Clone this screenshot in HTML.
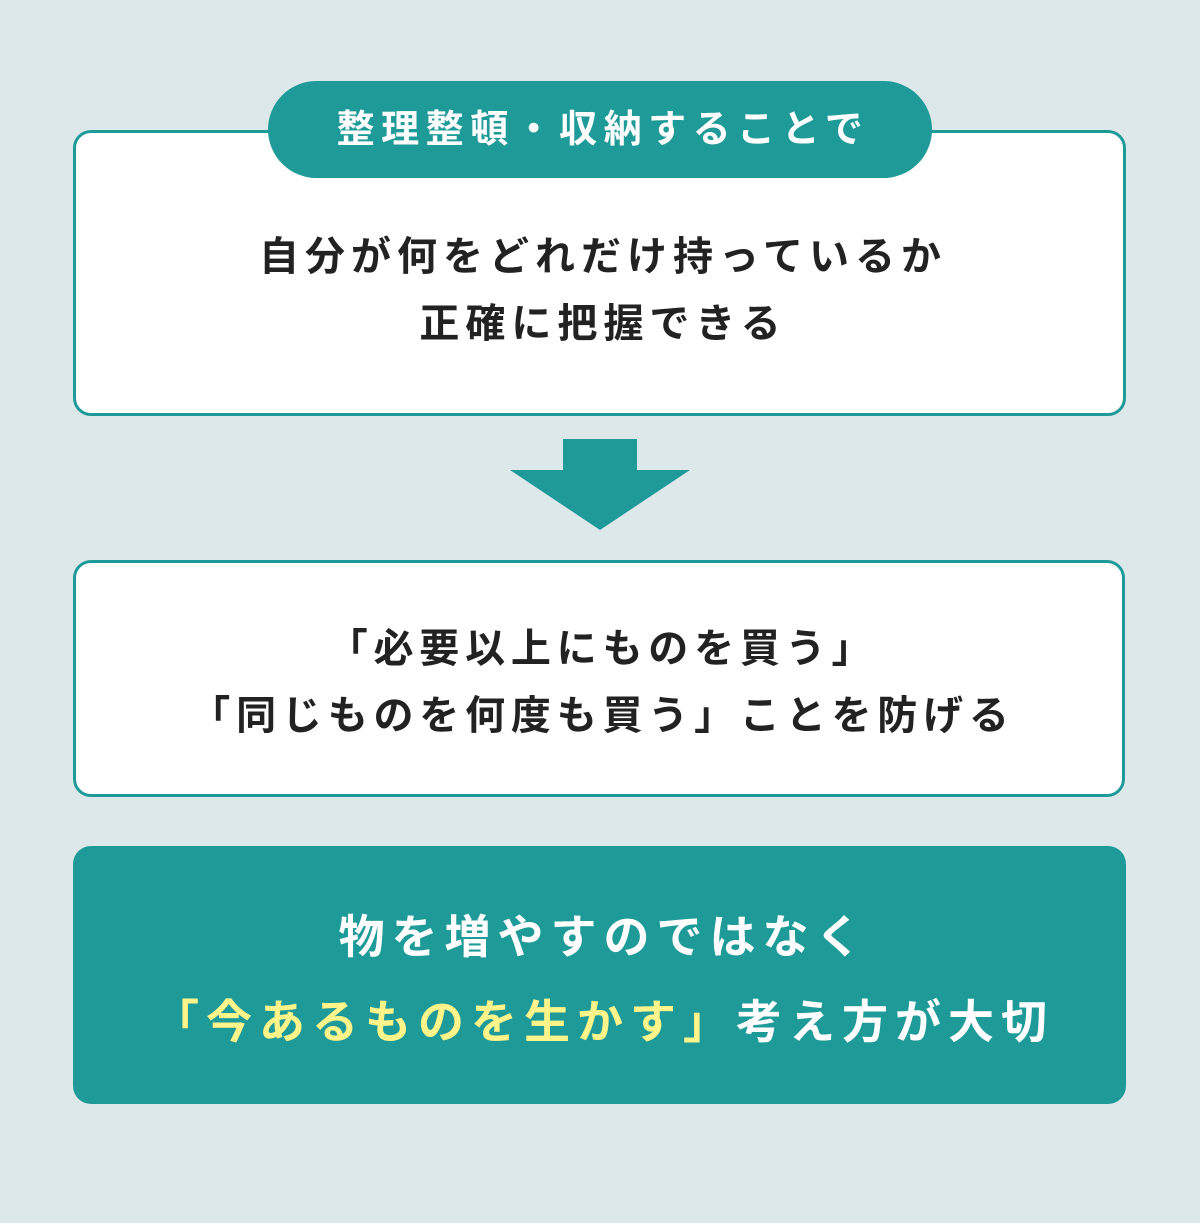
<!DOCTYPE html>
<html><head><meta charset="utf-8"><style>
body{margin:0;width:1200px;height:1223px;background:#dce8ea;position:relative;font-family:"Liberation Sans","Noto Sans CJK JP",sans-serif;font-weight:700;overflow:hidden}
.box{position:absolute;box-sizing:border-box;border:3px solid #1e9b98;border-radius:18px;background:#fff}
.t{position:absolute;left:0;width:1200px;text-align:center;white-space:nowrap;color:#222}
</style></head><body>
<div class="box" style="left:73px;top:130px;width:1053px;height:286px"></div>
<div style="position:absolute;left:268px;top:81px;width:664px;height:97px;border-radius:49px;background:#1e9b98"></div>
<div class="t" style="top:105px;font-size:38px;letter-spacing:6.5px;text-indent:6px;color:#fff;line-height:50px">整理整頓・収納することで</div>
<div class="t" style="top:232px;font-size:40px;letter-spacing:6px;text-indent:6px;line-height:50px">自分が何をどれだけ持っているか</div>
<div class="t" style="top:299px;font-size:40px;letter-spacing:6px;text-indent:6px;line-height:50px">正確に把握できる</div>
<svg style="position:absolute;left:0;top:0" width="1200" height="560"><rect x="563" y="439" width="74" height="32" fill="#1e9b98"/><polygon points="510,470 690,470 600,530" fill="#1e9b98"/></svg>
<div class="box" style="left:73px;top:560px;width:1052px;height:237px"></div>
<div class="t" style="top:624px;font-size:40px;letter-spacing:5.8px;text-indent:5px;line-height:50px">「必要以上にものを買う」</div>
<div class="t" style="top:691px;font-size:40px;letter-spacing:5.8px;text-indent:5px;line-height:50px">「同じものを何度も買う」ことを防げる</div>
<div style="position:absolute;left:73px;top:846px;width:1053px;height:258px;border-radius:18px;background:#1e9b98"></div>
<div class="t" style="top:910px;font-size:46px;letter-spacing:7px;text-indent:7px;color:#fff;line-height:54px">物を増やすのではなく</div>
<div class="t" style="top:995px;font-size:46px;letter-spacing:7px;text-indent:7px;color:#fff;line-height:54px"><span style="color:#fff48a">「今あるものを生かす」</span>考え方が大切</div>
</body></html>
